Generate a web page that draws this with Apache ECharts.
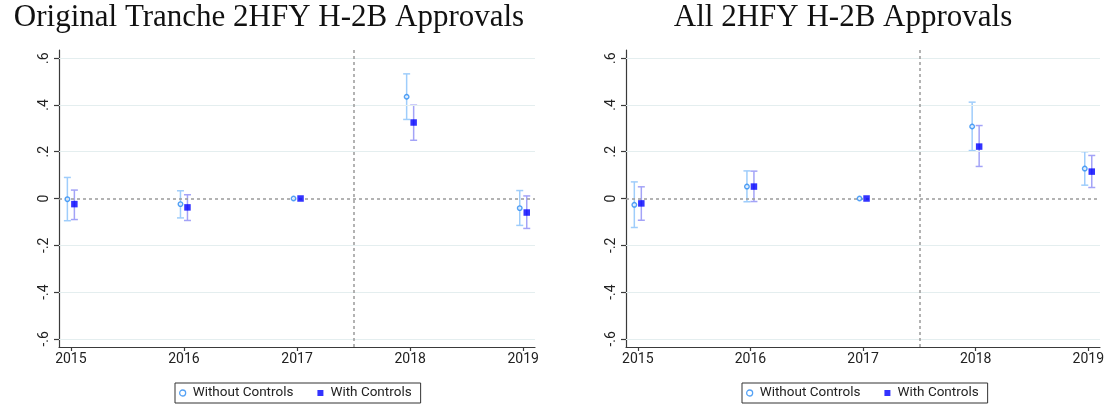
<!DOCTYPE html>
<html>
<head>
<meta charset="utf-8">
<script src="https://cdn.jsdelivr.net/npm/echarts@6/dist/echarts.min.js"></script>
<style>
html,body{margin:0;padding:0;background:#fff;}
#c{width:1107px;height:407px;}
</style>
</head>
<body>
<div id="c"></div>
<script>
// ---- data ----
var years = [2015, 2016, 2017, 2018, 2019];
var titles = ['Original Tranche 2HFY H-2B Approvals', 'All 2HFY H-2B Approvals'];
var seriesNames = ['Without Controls', 'With Controls'];

var leftNoCtrl   = [-0.003, -0.024, 0, 0.435, -0.041];
var leftNoCtrlLo = [-0.095, -0.083, 0, 0.338, -0.115];
var leftNoCtrlHi = [ 0.090,  0.033, 0, 0.533,  0.034];
var leftCtrl     = [-0.024, -0.038, 0, 0.325, -0.060];
var leftCtrlLo   = [-0.090, -0.094, 0, 0.249, -0.128];
var leftCtrlHi   = [ 0.036,  0.016, 0, 0.399,  0.011];

var rightNoCtrl   = [-0.027,  0.051, 0, 0.308, 0.128];
var rightNoCtrlLo = [-0.124, -0.014, 0, 0.205, 0.057];
var rightNoCtrlHi = [ 0.071,  0.118, 0, 0.412, 0.200];
var rightCtrl     = [-0.021,  0.051, 0, 0.222, 0.115];
var rightCtrlLo   = [-0.093, -0.013, 0, 0.137, 0.047];
var rightCtrlHi   = [ 0.050,  0.117, 0, 0.312, 0.184];

var yTicks = [-0.6, -0.4, -0.2, 0, 0.2, 0.4, 0.6];
var yTickLabels = ['-.6', '-.4', '-.2', '0', '.2', '.4', '.6'];
var gridValues = [-0.6, -0.4, -0.2, 0.2, 0.4, 0.6];
var treatmentLine = 2017.5;

// ---- styling ----
var C_NO = '#2a8bf2', C_NO_CI = '#9fcdfb';
var C_W = '#0000ff', C_W_CI = '#a3a3f7';
var OFF = 3.5;

var chart = echarts.init(document.getElementById('c'), null, {renderer: 'canvas'});

function zip(a, lo, hi) {
  return years.map(function (y, i) { return [y, a[i], lo[i], hi[i]]; });
}
function ciSeries(g, data, color, dx) {
  return {
    type: 'custom', xAxisIndex: g, yAxisIndex: g, z: 3, silent: true,
    data: data,
    encode: {x: 0, y: [2, 3]},
    renderItem: function (params, api) {
      var lo = api.value(2), hi = api.value(3);
      if (lo === hi) return null;
      var p1 = api.coord([api.value(0), lo]);
      var p2 = api.coord([api.value(0), hi]);
      var x = p1[0] + dx, cw = 3.5;
      var st = {stroke: color, lineWidth: 1.5};
      return {type: 'group', children: [
        {type: 'line', shape: {x1: x, y1: p1[1], x2: x, y2: p2[1]}, style: st},
        {type: 'line', shape: {x1: x - cw, y1: p1[1], x2: x + cw, y2: p1[1]}, style: st},
        {type: 'line', shape: {x1: x - cw, y1: p2[1], x2: x + cw, y2: p2[1]}, style: st}
      ]};
    }
  };
}
function ptSeries(g, name, data, hollow, dx) {
  return {
    type: 'scatter', name: name, xAxisIndex: g, yAxisIndex: g, z: 5,
    data: data.map(function (d) { return [d[0], d[1]]; }),
    symbol: hollow ? 'circle' : 'rect',
    symbolSize: hollow ? 4.5 : 6.5,
    symbolOffset: [dx, 0],
    itemStyle: hollow ? {color: '#eaf4ff', borderColor: C_NO, borderWidth: 1.4}
                      : {color: C_W, borderWidth: 0}
  };
}
function refSeries(g) {
  return {
    type: 'line', xAxisIndex: g, yAxisIndex: g, data: [], silent: true, z: 1,
    markLine: {
      silent: true, symbol: ['none', 'none'], label: {show: false},
      animation: false,
      data: gridValues.map(function (v) {
        return {yAxis: v, lineStyle: {color: '#e4eeef', width: 1, type: 'solid'}};
      }).concat([
        {yAxis: 0, lineStyle: {color: '#9a9a9a', width: 1.5, type: [3, 3]}},
        {xAxis: treatmentLine, lineStyle: {color: '#9a9a9a', width: 1.5, type: [3, 3]}}
      ])
    }
  };
}
function xAxisCfg(g) {
  return {
    type: 'value', gridIndex: g, min: 2014.895, max: 2019.104,
    splitLine: {show: false},
    axisLine: {show: true, onZero: false, lineStyle: {color: '#3a3a3a', width: 1.2}},
    axisTick: {show: true, length: 4, customValues: years, lineStyle: {color: '#3a3a3a', width: 1.2}},
    axisLabel: {customValues: years, margin: 5, fontFamily: 'Roboto', fontSize: 14, color: '#222',
      formatter: function (v) { return String(Math.round(v)); }}
  };
}
function yAxisCfg(g) {
  return {
    type: 'value', gridIndex: g, min: -0.635, max: 0.635,
    splitLine: {show: false},
    axisLine: {show: true, lineStyle: {color: '#3a3a3a', width: 1.2}},
    axisTick: {show: true, length: 5, customValues: yTicks, lineStyle: {color: '#3a3a3a', width: 1.2}},
    axisLabel: {customValues: yTicks, rotate: 90, margin: 8, fontFamily: 'Roboto', fontSize: 14, color: '#222',
      formatter: function (v) {
        for (var i = 0; i < yTicks.length; i++) if (Math.abs(yTicks[i] - v) < 1e-6) return yTickLabels[i];
        return '';
      }}
  };
}
function legendCfg(left) {
  return {
    left: left, top: 383, orient: 'horizontal',
    padding: [3, 9, 3, 4], itemGap: 24, itemWidth: 6, itemHeight: 6,
    borderColor: '#333', borderWidth: 1, backgroundColor: '#fff',
    textStyle: {fontFamily: 'Roboto', fontSize: 13.5, color: '#222', padding: [0, 0, 0, 2]},
    data: [
      {name: seriesNames[0], icon: 'circle', itemStyle: {color: '#fff', borderColor: C_NO, borderWidth: 1.3}},
      {name: seriesNames[1], icon: 'rect', itemStyle: {color: C_W}}
    ]
  };
}

var L = [zip(leftNoCtrl, leftNoCtrlLo, leftNoCtrlHi), zip(leftCtrl, leftCtrlLo, leftCtrlHi)];
var R = [zip(rightNoCtrl, rightNoCtrlLo, rightNoCtrlHi), zip(rightCtrl, rightCtrlLo, rightCtrlHi)];

var option = {
  animation: false,
  backgroundColor: '#fff',
  title: [
    {text: titles[0], left: 264, top: -3, textAlign: 'center',
     textStyle: {fontFamily: 'Liberation Serif', fontWeight: 'normal', fontSize: 31, color: '#111'}},
    {text: titles[1], left: 838, top: -3, textAlign: 'center',
     textStyle: {fontFamily: 'Liberation Serif', fontWeight: 'normal', fontSize: 31, color: '#111'}}
  ],
  legend: [legendCfg(175), legendCfg(742)],
  grid: [
    {left: 59, right: 1107 - 535, top: 50, bottom: 60, containLabel: false},
    {left: 626, right: 5, top: 50, bottom: 60, containLabel: false}
  ],
  xAxis: [xAxisCfg(0), xAxisCfg(1)],
  yAxis: [yAxisCfg(0), yAxisCfg(1)],
  series: [
    refSeries(0), refSeries(1),
    ciSeries(0, L[0], C_NO_CI, -OFF), ciSeries(0, L[1], C_W_CI, OFF),
    ciSeries(1, R[0], C_NO_CI, -OFF), ciSeries(1, R[1], C_W_CI, OFF),
    ptSeries(0, seriesNames[0], L[0], true, -OFF), ptSeries(0, seriesNames[1], L[1], false, OFF),
    ptSeries(1, seriesNames[0], R[0], true, -OFF), ptSeries(1, seriesNames[1], R[1], false, OFF)
  ]
};
chart.setOption(option);
</script>
</body>
</html>
